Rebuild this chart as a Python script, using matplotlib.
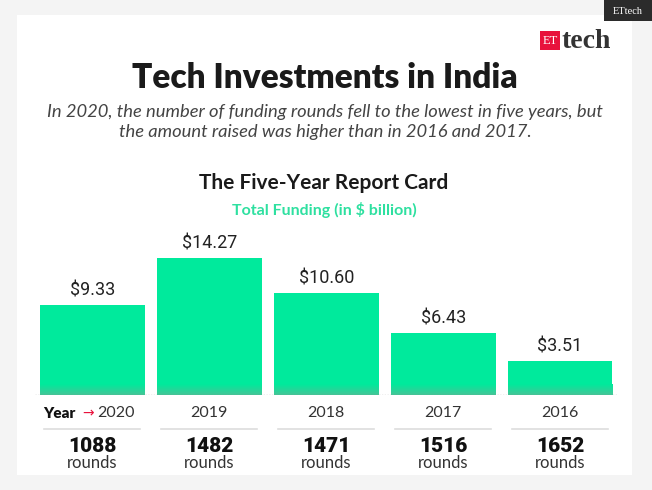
import numpy as np
import matplotlib.pyplot as plt
from matplotlib.colors import LinearSegmentedColormap
from matplotlib.patches import Rectangle
from matplotlib.transforms import blended_transform_factory

years = ['2020', '2019', '2018', '2017', '2016']
funding = [9.33, 14.27, 10.60, 6.43, 3.51]
rounds = [1088, 1482, 1471, 1516, 1652]

W, H = 652, 490
fig = plt.figure(figsize=(W / 100, H / 100), dpi=100)
fig.patch.set_facecolor('#f4f4f4')


def px(x, y):
    # pixel position (from top-left) -> figure fraction
    return x / W, 1 - y / H


# white card
fig.patches.append(Rectangle(px(17, 475), 615 / W, 460 / H, transform=fig.transFigure,
                             facecolor='white', edgecolor='none', zorder=-5))
# ETtech tag top right
fig.patches.append(Rectangle(px(604, 21), 48 / W, 21 / H, transform=fig.transFigure,
                             facecolor='#2b2b2b', edgecolor='none', zorder=1))
fig.text(*px(628, 11), 'ETtech', color='white', fontsize=7.5, family='Liberation Serif',
         ha='center', va='center')
# logo
fig.patches.append(Rectangle(px(540, 50), 20 / W, 19 / H, transform=fig.transFigure,
                             facecolor='#e8123c', edgecolor='none', zorder=1))
fig.text(*px(550, 41), 'ET', color='white', fontsize=9, family='Liberation Serif',
         ha='center', va='center')
fig.text(*px(562, 41), 'tech', color='#333333', fontsize=20, family='Liberation Serif',
         weight='bold', ha='left', va='center')

# titles
fig.text(*px(325, 78), 'Tech Investments in India', fontsize=24, weight='heavy',
         family='Lato', color='#1a1a1a', ha='center', va='center')
fig.text(*px(325, 122), 'In 2020, the number of funding rounds fell to the lowest in five years, but\n'
         'the amount raised was higher than in 2016 and 2017.', fontsize=13.2, style='italic',
         family='Lato', color='#444444', ha='center', va='center', linespacing=1.35)
fig.text(*px(324, 183), 'The Five-Year Report Card', fontsize=15, weight='bold',
         family='Lato', color='#1a1a1a', ha='center', va='center')
fig.text(*px(324, 210), 'Total Funding (in $ billion)', fontsize=11.5, weight='bold',
         family='Lato', color='#2ee0a0', ha='center', va='center')

# bar axes
x0, x1 = 35, 617
ax = fig.add_axes([x0 / W, 1 - 395 / H, (x1 - x0) / W, 155 / H])
ax.set_facecolor('none')
xs = np.arange(len(years))
bars = ax.bar(xs, funding, width=0.897, color='#00ea9c', zorder=2)

# darker gradient band at bar bottoms
grad = np.linspace(0, 1, 50).reshape(-1, 1)
cm = LinearSegmentedColormap.from_list('g', ['#00ea9c', '#45c597'])
for b in bars:
    bx = b.get_x()
    im = ax.imshow(grad, extent=(bx, bx + b.get_width(), 0, 1.1), aspect='auto',
                   cmap=cm, origin='upper', zorder=2.5)
    im.set_clip_path(b)

ax.set_xlim(-0.491, 4.487)
ax.set_ylim(0, 16.15)
ax.axis('off')
ax.axhline(0, color='#888888', lw=0.9, ls=(0, (1, 1.2)), zorder=3)

for xi, v in zip(xs, funding):
    ax.annotate(f'${v:.2f}', (xi, v), xytext=(0, 6), textcoords='offset pixels',
                ha='center', va='bottom', fontsize=13, family='Roboto', color='#222222')

tr = blended_transform_factory(ax.transData, fig.transFigure)
for i, (xi, yr, r) in enumerate(zip(xs, years, rounds)):
    if i == 0:
        ax.annotate('Year', (xi, 1 - 413 / H), xycoords=tr, xytext=(-49, 0),
                    textcoords='offset pixels', ha='left', va='center', fontsize=11,
                    weight='heavy', family='Lato', color='#111111')
        ax.annotate('\u2192', (xi, 1 - 413 / H), xycoords=tr, xytext=(-4, 0),
                    textcoords='offset pixels', ha='center', va='center', fontsize=10,
                    color='#e8123c', family='DejaVu Sans')
        ax.annotate(yr, (xi, 1 - 413 / H), xycoords=tr, xytext=(5, 0),
                    textcoords='offset pixels', ha='left', va='center', fontsize=11.5,
                    family='Lato', color='#333333')
    else:
        ax.text(xi, 1 - 413 / H, yr, transform=tr, ha='center', va='center',
                fontsize=11.5, family='Lato', color='#333333')
    ax.plot([xi - 0.41, xi + 0.41], [1 - 429 / H] * 2, transform=tr, color='#dddddd',
            lw=1.2, clip_on=False)
    ax.text(xi, 1 - 446 / H, str(r), transform=tr, ha='center', va='center',
            fontsize=15, weight=900, family='Roboto', color='#111111')
    ax.text(xi, 1 - 463 / H, 'rounds', transform=tr, ha='center', va='center',
            fontsize=12, family='Lato', color='#333333')

fig.savefig('out.png', dpi=100, facecolor=fig.get_facecolor())
